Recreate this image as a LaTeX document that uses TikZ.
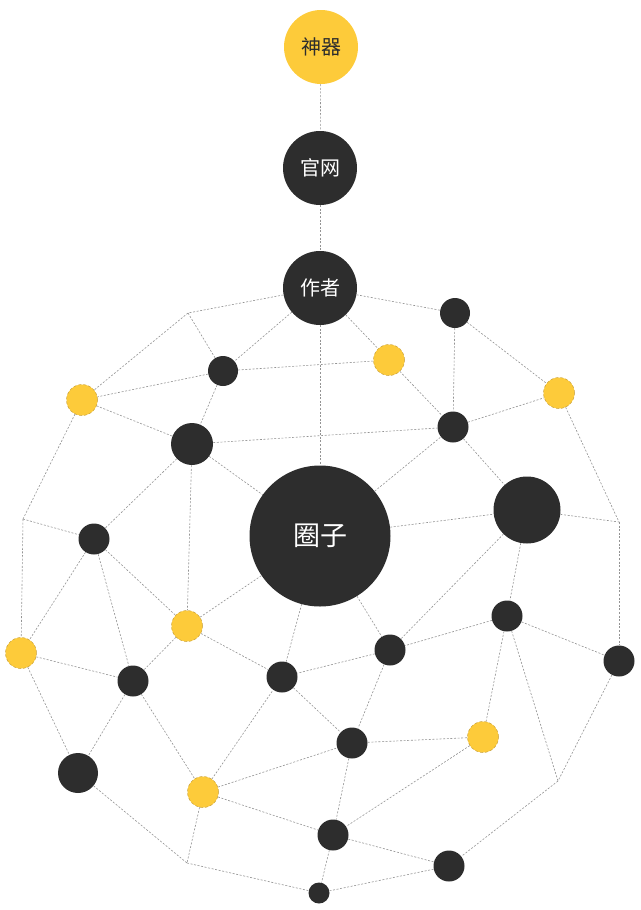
\documentclass[tikz,border=0pt]{standalone}
\usepackage{fontspec}
\newfontfamily\cjk{Noto Sans CJK SC}
\definecolor{dk}{HTML}{2D2D2D}
\definecolor{yl}{HTML}{FDCB3A}
\definecolor{yo}{HTML}{C9A13A}
\definecolor{ln}{HTML}{939393}
\tikzset{
  blk/.style={circle,fill=dk,inner sep=0pt,minimum size=#1},
  ylw/.style={circle,fill=yl,draw=yo,densely dashed,line width=0.5pt,inner sep=0pt,minimum size=#1},
  lk/.style={draw=ln,line width=0.6pt,dash pattern=on 2pt off 1.6pt},
  lbl/.style={font=\cjk\fontsize{20}{20}\selectfont}
}
\begin{document}
\begin{tikzpicture}[x=1pt,y=-1pt]
\useasboundingbox (0,0) rectangle (640,910);
% nodes
\node[ylw=74pt,lbl,text=dk,solid,draw=none] (shen) at (321,47) {神器};
\node[blk=74pt,lbl,text=white] (guan) at (320,168) {官网};
\node[blk=74pt,lbl,text=white] (zuo) at (320,288) {作者};
\node[blk=141pt,text=white,font=\cjk\fontsize{27}{27}\selectfont] (quan) at (320,536) {圈子};
\coordinate (c1) at (188,313);
\coordinate (c2) at (23,519);
\coordinate (c3) at (619,522);
\coordinate (c4) at (187,863);
\coordinate (c5) at (558,781);
\node[blk=30pt] (n1) at (223,371) {};
\node[ylw=31pt] (y1) at (82,400) {};
\node[blk=42pt] (n2) at (192,444) {};
\node[blk=31pt] (n3) at (94,539) {};
\node[blk=30pt] (n4) at (455,313) {};
\node[ylw=31pt] (y2) at (389,360) {};
\node[ylw=31pt] (y3) at (559,393) {};
\node[blk=31pt] (n5) at (453,427) {};
\node[blk=67pt] (n6) at (527,510) {};
\node[ylw=31pt] (y4) at (187,626) {};
\node[ylw=31pt] (y5) at (21,653) {};
\node[blk=31pt] (n7) at (133,681) {};
\node[blk=31pt] (n8) at (282,677) {};
\node[blk=40pt] (n9) at (78,773) {};
\node[ylw=31pt] (y6) at (203,792) {};
\node[blk=31pt] (n10) at (507,616) {};
\node[blk=31pt] (n11) at (390,650) {};
\node[blk=31pt] (n12) at (619,661) {};
\node[blk=31pt] (n13) at (352,743) {};
\node[ylw=31pt] (y7) at (483,737) {};
\node[blk=31pt] (n14) at (333,835) {};
\node[blk=31pt] (n15) at (449,866) {};
\node[blk=21pt] (n16) at (319,893) {};
% links
\draw[lk] (shen) -- (guan);
\draw[lk] (guan) -- (zuo);
\draw[lk] (zuo) -- (quan);
\draw[lk] (zuo) -- (c1);
\draw[lk] (zuo) -- (n1);
\draw[lk] (zuo) -- (n4);
\draw[lk] (zuo) -- (y2);
\draw[lk] (c1) -- (y1);
\draw[lk] (c1) -- (n1);
\draw[lk] (n1) -- (y1);
\draw[lk] (n1) -- (y2);
\draw[lk] (n1) -- (n2);
\draw[lk] (y1) -- (n2);
\draw[lk] (y1) -- (c2);
\draw[lk] (n2) -- (n5);
\draw[lk] (n2) -- (quan);
\draw[lk] (n2) -- (n3);
\draw[lk] (n2) -- (y4);
\draw[lk] (c2) -- (n3);
\draw[lk] (c2) -- (y5);
\draw[lk] (n3) -- (y5);
\draw[lk] (n3) -- (n7);
\draw[lk] (n3) -- (y4);
\draw[lk] (y4) -- (quan);
\draw[lk] (y4) -- (n7);
\draw[lk] (y4) -- (n8);
\draw[lk] (y5) -- (n7);
\draw[lk] (y5) -- (n9);
\draw[lk] (n7) -- (n9);
\draw[lk] (n7) -- (y6);
\draw[lk] (n9) -- (c4);
\draw[lk] (y6) -- (n8);
\draw[lk] (y6) -- (n13);
\draw[lk] (y6) -- (n14);
\draw[lk] (y6) -- (c4);
\draw[lk] (c4) -- (n16);
\draw[lk] (quan) -- (n5);
\draw[lk] (quan) -- (n6);
\draw[lk] (quan) -- (n8);
\draw[lk] (quan) -- (n11);
\draw[lk] (n4) -- (n5);
\draw[lk] (n4) -- (y3);
\draw[lk] (y2) -- (n5);
\draw[lk] (n5) -- (y3);
\draw[lk] (n5) -- (n6);
\draw[lk] (y3) -- (c3);
\draw[lk] (n6) -- (c3);
\draw[lk] (n6) -- (n11);
\draw[lk] (n6) -- (n10);
\draw[lk] (c3) -- (n12);
\draw[lk] (n10) -- (n11);
\draw[lk] (n10) -- (n12);
\draw[lk] (n10) -- (y7);
\draw[lk] (n10) -- (c5);
\draw[lk] (n12) -- (c5);
\draw[lk] (n11) -- (n8);
\draw[lk] (n11) -- (n13);
\draw[lk] (n8) -- (n13);
\draw[lk] (n13) -- (y7);
\draw[lk] (n13) -- (n14);
\draw[lk] (y7) -- (n14);
\draw[lk] (c5) -- (n15);
\draw[lk] (n14) -- (n15);
\draw[lk] (n14) -- (n16);
\draw[lk] (n15) -- (n16);
\end{tikzpicture}
\end{document}
